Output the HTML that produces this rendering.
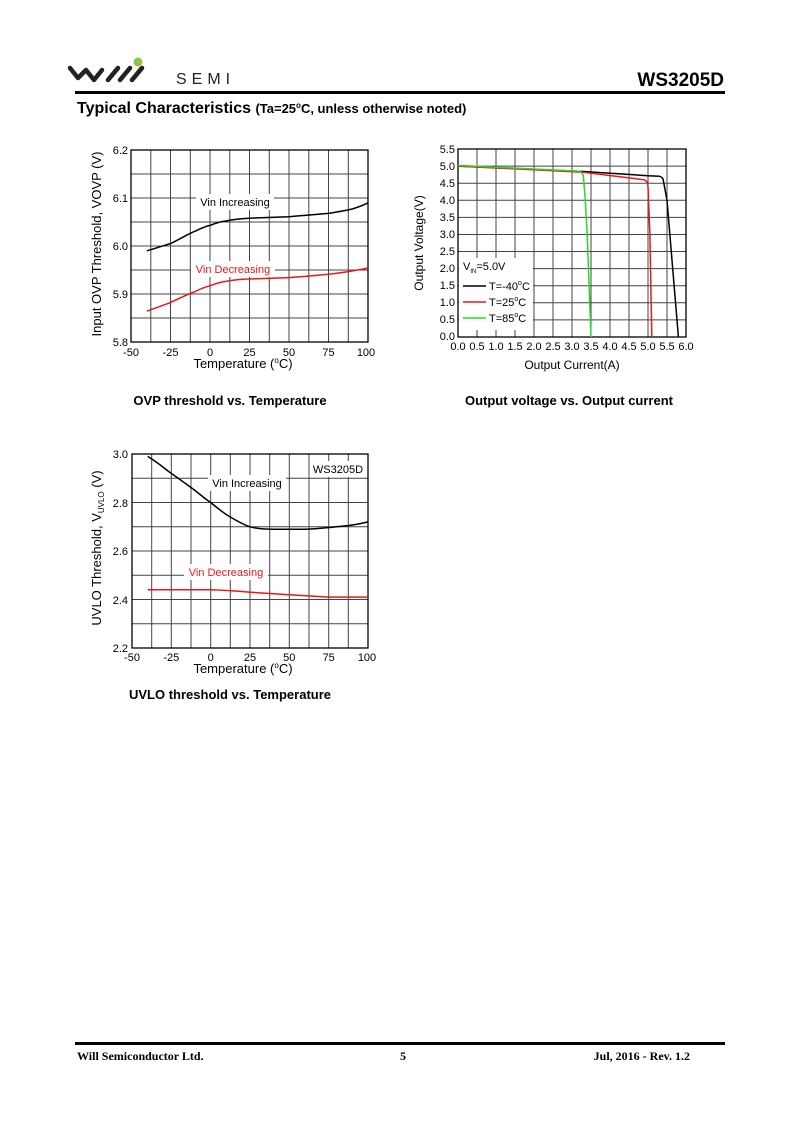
<!DOCTYPE html>
<html><head><meta charset="utf-8"><style>
html,body{margin:0;padding:0;background:#fff;}
svg{display:block;font-family:"Liberation Sans",Arial,sans-serif;}
</style></head><body>
<svg width="800" height="1131" viewBox="0 0 800 1131" xmlns="http://www.w3.org/2000/svg">
<!-- header -->
<path d="M70,68 L78,78 L86,70 L94,80 L102,70" fill="none" stroke="#222" stroke-width="4.5" stroke-linejoin="round" stroke-linecap="round"/>
<path d="M108,80 L118,68 M120,80 L130,68 M132,80 L142,68" fill="none" stroke="#222" stroke-width="4.5" stroke-linecap="round"/>
<circle cx="138" cy="62" r="4.5" fill="#8dc63f"/>
<text x="176" y="84" font-size="16" letter-spacing="5" fill="#222">SEMI</text>
<text x="724" y="86" font-size="19" font-weight="bold" text-anchor="end">WS3205D</text>
<rect x="75" y="91" width="650" height="3" fill="#000"/>
<text x="77" y="113" font-size="16" font-weight="bold">Typical Characteristics <tspan font-size="13">(Ta=25<tspan dy="-5" font-size="8">o</tspan><tspan dy="5">C, unless otherwise noted)</tspan></tspan></text>

<!-- Chart 1 -->
<g stroke="#444" stroke-width="1">
<path d="M150.8,150V342M170.5,150V342M190.3,150V342M210,150V342M229.8,150V342M249.5,150V342M269.3,150V342M289,150V342M308.8,150V342M328.5,150V342M348.3,150V342M131,174H368M131,198H368M131,222H368M131,246H368M131,270H368M131,294H368M131,318H368"/>
</g>
<rect x="131" y="150" width="237" height="192" fill="none" stroke="#000" stroke-width="1.3"/>
<rect x="196" y="194" width="78" height="16" fill="#fff"/>
<rect x="191" y="261" width="84" height="16" fill="#fff"/>
<path d="M146.8,250.8 C160,247 165,245 170.5,243.6 C182,238 190,233 194.2,231.6 C202,228 206,226 210,225.4 C216,223 220,221.5 225.8,221 C235,219 242,218.5 249.5,218.2 L289,216.7 C305,215.5 315,214.5 328.5,213.4 C340,211.5 346,210.5 352.2,209 C360,206.5 364,205 368,202.8" fill="none" stroke="#000" stroke-width="1.5"/>
<path d="M146.8,311.2 L170.5,302.6 C180,298 188,294 194.2,292 C200,289 205,287 210,285.8 C216,283.5 220,282 225.8,281.4 C236,279.5 242,279 249.5,279 L289,277.6 C305,276.5 315,275.5 328.5,274.2 C345,272.5 356,270.5 368,268" fill="none" stroke="#e41a1c" stroke-width="1.5"/>
<text x="235" y="206" font-size="11" text-anchor="middle">Vin Increasing</text>
<text x="233" y="273" font-size="11" text-anchor="middle" fill="#e41a1c">Vin Decreasing</text>
<g font-size="11" text-anchor="end">
<text x="128" y="154">6.2</text><text x="128" y="202">6.1</text><text x="128" y="250">6.0</text><text x="128" y="298">5.9</text><text x="128" y="346">5.8</text>
</g>
<g font-size="11" text-anchor="middle">
<text x="131" y="356">-50</text><text x="170.5" y="356">-25</text><text x="210" y="356">0</text><text x="249.5" y="356">25</text><text x="289" y="356">50</text><text x="328.5" y="356">75</text><text x="366" y="356">100</text>
</g>
<text x="243" y="368" font-size="13" text-anchor="middle">Temperature (<tspan dy="-5" font-size="8">o</tspan><tspan dy="5">C)</tspan></text>
<text transform="translate(101,244) rotate(-90)" font-size="13" text-anchor="middle">Input OVP Threshold, VOVP (V)</text>
<text x="230" y="405" font-size="13" font-weight="bold" text-anchor="middle">OVP threshold vs. Temperature</text>

<!-- Chart 2 -->
<g stroke="#444" stroke-width="1">
<path d="M477,149V337M496,149V337M515,149V337M534,149V337M553,149V337M572,149V337M591,149V337M610,149V337M629,149V337M648,149V337M667,149V337M458,166.1H686M458,183.2H686M458,200.3H686M458,217.4H686M458,234.5H686M458,251.5H686M458,268.6H686M458,285.7H686M458,302.8H686M458,319.9H686"/>
</g>
<rect x="459" y="258" width="74" height="72" fill="#fff"/>
<rect x="458" y="149" width="228" height="188" fill="none" stroke="#000" stroke-width="1.3"/>
<path d="M458,166.1 L583.4,171.5 L648,175.7 L659.4,176.3 C662,177 663,178 663.2,179.8 L667,200.3 L678.4,337" fill="none" stroke="#000" stroke-width="1.5"/>
<path d="M458,166.1 L583.4,172.2 L644.2,179.8 C647,181 648,183 648,186.6 L649.9,234.5 L651.8,337" fill="none" stroke="#e41a1c" stroke-width="1.5"/>
<path d="M458,165.4 L579.6,171.2 C582,172.5 583,174 583.4,176.3 L585.3,200.3 L587.2,234.5 L591,337" fill="none" stroke="#22dd22" stroke-width="1.5"/>
<text x="463" y="270" font-size="11">V<tspan dy="3" font-size="6">IN</tspan><tspan dy="-3">=5.0V</tspan></text>
<line x1="463" y1="286" x2="486" y2="286" stroke="#000" stroke-width="1.5"/>
<line x1="463" y1="302" x2="486" y2="302" stroke="#e41a1c" stroke-width="1.5"/>
<line x1="463" y1="318" x2="486" y2="318" stroke="#22dd22" stroke-width="1.5"/>
<g font-size="11"><text x="489" y="290">T=-40<tspan dy="-5" font-size="7">o</tspan><tspan dy="5">C</tspan></text>
<text x="489" y="306">T=25<tspan dy="-5" font-size="7">o</tspan><tspan dy="5">C</tspan></text>
<text x="489" y="322">T=85<tspan dy="-5" font-size="7">o</tspan><tspan dy="5">C</tspan></text></g>
<g font-size="11" text-anchor="end">
<text x="455" y="153">5.5</text><text x="455" y="170">5.0</text><text x="455" y="187">4.5</text><text x="455" y="204">4.0</text><text x="455" y="221">3.5</text><text x="455" y="238">3.0</text><text x="455" y="255">2.5</text><text x="455" y="272">2.0</text><text x="455" y="289">1.5</text><text x="455" y="306">1.0</text><text x="455" y="323">0.5</text><text x="455" y="340">0.0</text>
</g>
<g font-size="11" text-anchor="middle">
<text x="458" y="350">0.0</text><text x="477" y="350">0.5</text><text x="496" y="350">1.0</text><text x="515" y="350">1.5</text><text x="534" y="350">2.0</text><text x="553" y="350">2.5</text><text x="572" y="350">3.0</text><text x="591" y="350">3.5</text><text x="610" y="350">4.0</text><text x="629" y="350">4.5</text><text x="648" y="350">5.0</text><text x="667" y="350">5.5</text><text x="686" y="350">6.0</text>
</g>
<text x="572" y="369" font-size="12" text-anchor="middle">Output Current(A)</text>
<text transform="translate(423,243) rotate(-90)" font-size="12" text-anchor="middle">Output Voltage(V)</text>
<text x="569" y="405" font-size="13" font-weight="bold" text-anchor="middle">Output voltage vs. Output current</text>

<!-- Chart 3 -->
<g stroke="#444" stroke-width="1">
<path d="M151.7,454V648M171.3,454V648M191,454V648M210.7,454V648M230.3,454V648M250,454V648M269.7,454V648M289.3,454V648M309,454V648M328.7,454V648M348.3,454V648M132,478.3H368M132,502.5H368M132,526.8H368M132,551H368M132,575.3H368M132,599.5H368M132,623.8H368"/>
</g>
<rect x="132" y="454" width="236" height="194" fill="none" stroke="#000" stroke-width="1.3"/>
<rect x="310" y="461" width="56" height="16" fill="#fff"/>
<rect x="208" y="475" width="78" height="16" fill="#fff"/>
<rect x="184" y="564" width="84" height="16" fill="#fff"/>
<path d="M147.7,456.4 C160,464 165,469 171.3,473.4 C182,481 189,486 194.9,490.4 C202,496 206,499.5 210.7,502.5 C216,507 221,511 226.4,514.6 C236,520.5 243,524.5 250,526.8 C258,529 265,529.2 273.6,529.2 L305.1,529.2 C318,528.8 326,527.8 336.5,526.8 C350,525.8 358,524.5 368,521.9" fill="none" stroke="#000" stroke-width="1.5"/>
<path d="M147.7,589.8 L210.7,589.8 C230,590.5 240,591.3 250,592.2 L289.3,594.7 L328.7,597.1 L368,597.1" fill="none" stroke="#e41a1c" stroke-width="1.5"/>
<text x="338" y="473" font-size="11" text-anchor="middle">WS3205D</text>
<text x="247" y="487" font-size="11" text-anchor="middle">Vin Increasing</text>
<text x="226" y="576" font-size="11" text-anchor="middle" fill="#e41a1c">Vin Decreasing</text>
<g font-size="11" text-anchor="end">
<text x="128" y="458">3.0</text><text x="128" y="507">2.8</text><text x="128" y="555">2.6</text><text x="128" y="604">2.4</text><text x="128" y="652">2.2</text>
</g>
<g font-size="11" text-anchor="middle">
<text x="132" y="661">-50</text><text x="171.3" y="661">-25</text><text x="210.7" y="661">0</text><text x="250" y="661">25</text><text x="289.3" y="661">50</text><text x="328.7" y="661">75</text><text x="367" y="661">100</text>
</g>
<text x="243" y="673" font-size="13" text-anchor="middle">Temperature (<tspan dy="-5" font-size="8">o</tspan><tspan dy="5">C)</tspan></text>
<text transform="translate(101,548) rotate(-90)" font-size="13" text-anchor="middle">UVLO Threshold, V<tspan dy="3" font-size="8">UVLO</tspan><tspan dy="-3"> (V)</tspan></text>
<text x="230" y="699" font-size="13" font-weight="bold" text-anchor="middle">UVLO threshold vs. Temperature</text>

<!-- footer -->
<rect x="75" y="1042" width="650" height="3" fill="#000"/>
<g font-family="Liberation Serif,serif" font-size="12" font-weight="bold">
<text x="77" y="1060">Will Semiconductor Ltd.</text>
<text x="403" y="1060" text-anchor="middle">5</text>
<text x="690" y="1060" text-anchor="end">Jul, 2016 - Rev. 1.2</text>
</g>
</svg>
</body></html>
